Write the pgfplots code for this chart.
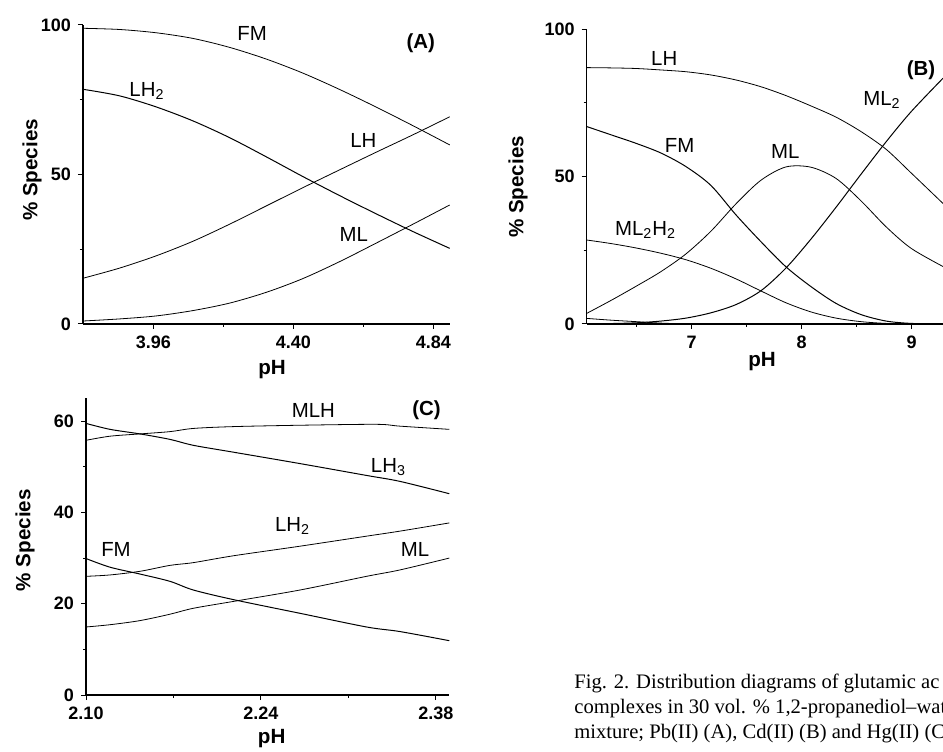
\documentclass[border=0pt]{standalone}
\usepackage{fontspec}
\setmainfont{Liberation Sans}
\newfontfamily\capfont[Ligatures=TeX]{Liberation Serif}
\usepackage{pgfplots}
\pgfplotsset{compat=1.18}
\pgfplotsset{myax/.style={
  scale only axis, axis lines*=left, tick align=outside,
  axis line style={line width=0.6pt},
  major tick length=2.5pt, minor tick length=1.5pt,
  every tick/.style={black, line width=0.5pt},
  /pgf/number format/assume math mode=true,
  tick label style={font=\bfseries\fontsize{9}{10}\selectfont},
  label style={font=\bfseries\fontsize{10.3}{12}\selectfont},
  cycle list={{black, line width=0.5pt, mark=none}},
  every axis plot/.append style={smooth},
  clip=true,
}}
\tikzset{lab/.style={font=\fontsize{10.2}{12}\selectfont, inner sep=0pt},
         plab/.style={font=\bfseries\fontsize{10.2}{12}\selectfont, inner sep=0pt}}
\begin{document}
\begin{tikzpicture}
\useasboundingbox (0,0) rectangle (471.5pt,375.5pt);
% ---------------- (A)
\begin{axis}[myax, at={(41.5pt,213.5pt)}, anchor=south west,
  width=183.5pt, height=149.5pt,
  xmin=3.739, xmax=4.892, ymin=0, ymax=100,
  xtick={3.96,4.40,4.84}, xticklabels={3.96,4.40,4.84},
  minor xtick={4.18,4.62},
  ytick={0,50,100}, minor ytick={25,75},
  xlabel={pH}, ylabel={\% Species},
  xlabel style={at={(axis description cs:0.515,-0.154)}, anchor=center},
  ylabel style={at={(axis description cs:-0.139,0.515)}, anchor=center}]
% FM
\addplot coordinates {(3.739,98.9) (3.854,98.5) (3.969,97.4) (4.085,95.5) (4.200,92.5) (4.315,88.6) (4.430,83.9) (4.546,78.4) (4.661,72.5) (4.776,66.3) (4.891,59.9)};
% LH2
\addplot coordinates {(3.739,78.5) (3.854,76.3) (3.969,72.6) (4.085,67.9) (4.200,62.3) (4.315,55.9) (4.430,49.3) (4.546,42.9) (4.661,36.8) (4.776,30.9) (4.891,25.3)};
% LH
\addplot coordinates {(3.739,15.3) (3.854,18.7) (3.969,22.8) (4.085,27.7) (4.200,33.4) (4.315,39.5) (4.430,45.6) (4.546,51.6) (4.661,57.5) (4.776,63.3) (4.891,69.3)};
% ML
\addplot coordinates {(3.739,1.0) (3.854,1.7) (3.969,2.7) (4.085,4.5) (4.200,7.0) (4.315,10.6) (4.430,15.2) (4.546,20.9) (4.661,27.1) (4.776,33.4) (4.891,39.8)};
\node[lab] at (axis cs:4.27,97) {FM};
\node[plab] at (axis cs:4.80,94) {(A)};
\node[lab] at (axis cs:3.94,78) {LH\textsubscript{2}};
\node[lab] at (axis cs:4.62,61.5) {LH};
\node[lab] at (axis cs:4.59,30) {ML};
\end{axis}
% ---------------- (B)
\begin{axis}[myax, at={(293.35pt,213.5pt)}, anchor=south west,
  width=178.15pt, height=147.35pt,
  xmin=6.045, xmax=9.285, ymin=0, ymax=100,
  xtick={7,8,9}, minor xtick={6.5,7.5,8.5},
  ytick={0,50,100}, minor ytick={25,75},
  xlabel={pH}, ylabel={\% Species},
  xlabel style={at={(axis description cs:0.492,-0.129)}, anchor=center},
  ylabel style={at={(axis description cs:-0.193,0.465)}, anchor=center}]
% LH
\addplot coordinates {(6.045,87.0) (6.266,86.9) (6.494,86.7) (6.721,86.2) (6.948,85.6) (7.175,84.5) (7.403,82.8) (7.630,80.5) (7.857,77.5) (8.084,74.0) (8.312,70.2) (8.539,65.3) (8.767,59.3) (8.994,51.3) (9.285,40.9)};
% FM
\addplot coordinates {(6.045,67.0) (6.266,64.2) (6.494,61.3) (6.721,58.0) (6.948,53.4) (7.175,47.0) (7.403,37.0) (7.630,27.9) (7.857,19.4) (8.084,12.7) (8.312,7.0) (8.539,3.2) (8.767,1.0) (8.994,0.2) (9.285,0)};
% ML2H2
\addplot coordinates {(6.045,28.5) (6.266,27.3) (6.494,25.8) (6.721,24.0) (6.948,21.8) (7.175,18.9) (7.403,15.3) (7.630,11.2) (7.857,7.2) (8.084,4.1) (8.312,2.0) (8.539,0.8) (8.767,0.2) (8.994,0) (9.285,0)};
% ML
\addplot coordinates {(6.045,3.6) (6.266,8.0) (6.494,12.8) (6.721,17.8) (6.948,23.8) (7.175,31.5) (7.403,40.8) (7.630,48.8) (7.857,53.3) (8.084,53.2) (8.312,49.4) (8.539,41.8) (8.767,33.0) (8.994,25.7) (9.285,19.5)};
% ML2
\addplot coordinates {(6.045,0) (6.266,0.15) (6.494,0.4) (6.721,1.0) (6.948,2.0) (7.175,3.8) (7.403,6.6) (7.630,11.3) (7.857,19.0) (8.084,28.8) (8.312,39.6) (8.539,50.8) (8.767,61.8) (8.994,72.0) (9.285,83.4)};
% minor species
\addplot coordinates {(6.045,1.9) (6.266,1.3) (6.494,0.8) (6.721,0.3) (6.948,0.05) (7.175,0) (9.285,0)};
\node[lab] at (axis cs:6.75,90) {LH};
\node[plab] at (axis cs:9.085,86.2) {(B)};
\node[lab] at (axis cs:8.73,76) {ML\textsubscript{2}};
\node[lab] at (axis cs:6.89,60.5) {FM};
\node[lab] at (axis cs:7.85,58.5) {ML};
\node[lab] at (axis cs:6.58,32) {ML\textsubscript{2}H\textsubscript{2}};
\end{axis}
% ---------------- (C)
\begin{axis}[myax, at={(43pt,28pt)}, anchor=south west,
  width=181.65pt, height=148.35pt,
  xmin=2.10, xmax=2.3907, ymin=0, ymax=65,
  xtick={2.10,2.24,2.38}, xticklabels={2.10,2.24,2.38},
  minor xtick={2.17,2.31},
  ytick={0,20,40,60}, minor ytick={10,30,50},
  xlabel={pH}, ylabel={\% Species},
  xlabel style={at={(axis description cs:0.511,-0.146)}, anchor=center},
  ylabel style={at={(axis description cs:-0.168,0.522)}, anchor=center}]
\addplot coordinates {(2.10,55.8) (2.1192,56.7) (2.1432,57.2) (2.1672,57.7) (2.1859,58.4) (2.2179,58.8) (2.2712,59.1) (2.3325,59.3) (2.3512,58.9) (2.3907,58.2)};
\addplot coordinates {(2.10,59.5) (2.1192,58.2) (2.1432,57.2) (2.1672,56.0) (2.1859,54.7) (2.2179,53.2) (2.2712,50.7) (2.3245,48.1) (2.3512,46.8) (2.3907,44.1)};
\addplot coordinates {(2.10,26.0) (2.1192,26.3) (2.1432,27.1) (2.1672,28.4) (2.1859,29.0) (2.2179,30.5) (2.2712,32.6) (2.3245,34.8) (2.3512,35.9) (2.3907,37.7)};
\addplot coordinates {(2.10,14.9) (2.1192,15.4) (2.1432,16.3) (2.1672,17.7) (2.1859,19.0) (2.2179,20.5) (2.2712,23.0) (2.3245,26.0) (2.3512,27.4) (2.3907,30.0)};
\addplot coordinates {(2.10,29.9) (2.1192,28.0) (2.1432,26.5) (2.1672,24.9) (2.1859,23.0) (2.2179,20.9) (2.2712,17.9) (2.3245,14.9) (2.3512,13.9) (2.3907,11.9)};
\node[lab] at (axis cs:2.2819,62.4) {MLH};
\node[plab] at (axis cs:2.3725,62.4) {(C)};
\node[lab] at (axis cs:2.342,50) {LH\textsubscript{3}};
\node[lab] at (axis cs:2.2653,37) {LH\textsubscript{2}};
\node[lab] at (axis cs:2.124,31.8) {FM};
\node[lab] at (axis cs:2.3632,31.8) {ML};
\end{axis}
% ---------------- caption
\node[anchor=base west, inner sep=0pt, font=\capfont\fontsize{10.3}{12.5}\selectfont] at (287pt,31.5pt) {Fig. 2. Distribution diagrams of glutamic ac};
\node[anchor=base west, inner sep=0pt, font=\capfont\fontsize{10.3}{12.5}\selectfont] at (287pt,19pt) {complexes in 30 vol. \% 1,2-propanediol–wat};
\node[anchor=base west, inner sep=0pt, font=\capfont\fontsize{10.3}{12.5}\selectfont] at (287pt,6.5pt) {mixture; Pb(II) (A), Cd(II) (B) and Hg(II) (C};
\end{tikzpicture}
\end{document}
